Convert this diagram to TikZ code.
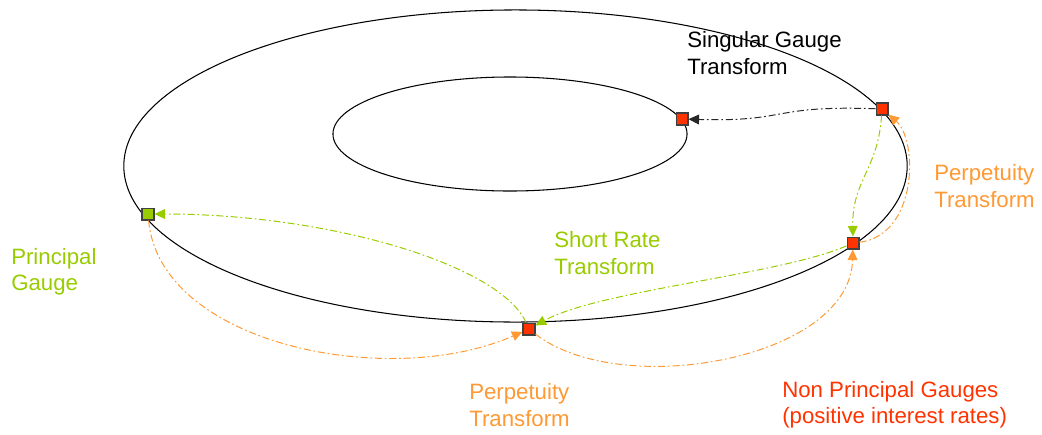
\documentclass[tikz,border=0pt]{standalone}
\usepackage{fontspec}
\setmainfont{Liberation Sans}
\usepackage{tikz}
\usetikzlibrary{arrows.meta}
\definecolor{gred}{HTML}{FF3300}
\definecolor{ggreen}{HTML}{99CC00}
\definecolor{gorange}{HTML}{FF9933}

\begin{document}
\begin{tikzpicture}[x=0.025cm, y=-0.025cm,
    sq/.style={draw=black!75, line width=0.75pt, minimum size=8.5pt, inner sep=0pt},
    dd/.style={line width=0.7pt, dash pattern=on 5pt off 2pt on 1.2pt off 2pt, -{Triangle[length=7.5pt, width=7pt]}},
    txt/.style={anchor=west, align=left, inner sep=0pt, font=\fontsize{15.8}{18.6}\selectfont}]
    \useasboundingbox (0, 0) rectangle (1042, 435);

    % ellipses
    \draw[line width=0.75pt] (515.5, 166) ellipse [x radius=9.79cm, y radius=3.9cm];
    \draw[line width=0.75pt] (510, 134) ellipse [x radius=4.425cm, y radius=1.425cm];

    % gauges
    \node[sq, fill=gred] at (682, 119) (inner) {};
    \node[sq, fill=gred] at (882, 109) (top) {};
    \node[sq, fill=gred] at (853, 243) (right) {};
    \node[sq, fill=gred] at (529, 329) (bottom) {};
    \node[sq, fill=ggreen] at (148, 214) (left) {};

    % singular gauge transform
    \draw[dd, black!85] (top) .. controls (770, 105) and (790, 122) .. (inner);

    % short rate transforms
    \draw[dd, ggreen] (top) .. controls (878, 170) and (852, 180) .. (right);
    \draw[dd, ggreen] (right) .. controls (780, 275) and (600, 290) .. (bottom);
    \draw[dd, ggreen] (bottom) .. controls (500, 265) and (330, 214) .. (left);

    % perpetuity transforms
    \draw[dd, gorange] (right) .. controls (918, 235) and (918, 140) .. (top);
    \draw[dd, gorange] (left) .. controls (160, 345) and (390, 390) .. (bottom);
    \draw[dd, gorange] (bottom) .. controls (620, 400) and (850, 360) .. (right);

    % labels
    \node[txt] at (687, 53) (sing) {Singular Gauge\\Transform};
    \node[txt, gorange] at (934, 186) (perpr) {Perpetuity\\Transform};
    \node[txt, ggreen] at (11, 272) (princ) {Principal\\Gauge};
    \node[txt, ggreen] at (554, 253) (short) {Short Rate\\Transform};
    \node[txt, gorange] at (469, 405) (perpb) {Perpetuity\\Transform};
    \node[txt, gred] at (782, 405) (nonp) {Non Principal Gauges\\(positive interest rates)};

\end{tikzpicture}
\end{document}
